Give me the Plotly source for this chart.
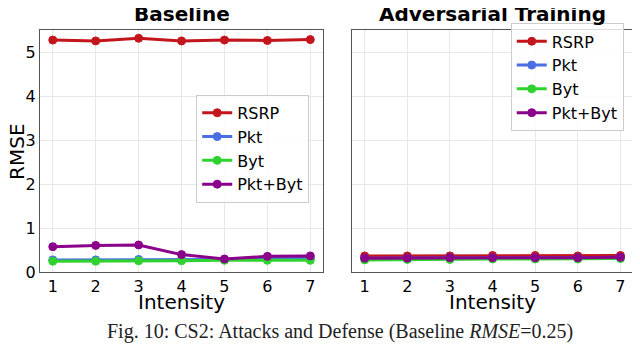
import plotly.graph_objects as go
from plotly.subplots import make_subplots

intensity = [1, 2, 3, 4, 5, 6, 7]

# Baseline
base_rsrp = [5.28, 5.26, 5.32, 5.26, 5.28, 5.27, 5.29]
base_pkt = [0.28, 0.28, 0.29, 0.29, 0.29, 0.31, 0.32]
base_byt = [0.25, 0.25, 0.26, 0.26, 0.27, 0.27, 0.27]
base_pktbyt = [0.58, 0.61, 0.62, 0.40, 0.30, 0.36, 0.37]

# Adversarial training
adv_rsrp = [0.37, 0.37, 0.37, 0.38, 0.38, 0.37, 0.38]
adv_pkt = [0.32, 0.32, 0.33, 0.33, 0.33, 0.33, 0.34]
adv_byt = [0.28, 0.29, 0.29, 0.30, 0.30, 0.30, 0.31]
adv_pktbyt = [0.32, 0.32, 0.33, 0.33, 0.33, 0.33, 0.34]

names = ["RSRP", "Pkt", "Byt", "Pkt+Byt"]
colors = ["#c3161c", "#4a6fe3", "#2fd22f", "#8b008b"]

fig = make_subplots(rows=1, cols=2)

panels = [
    (1, "legend", [base_rsrp, base_pkt, base_byt, base_pktbyt]),
    (2, "legend2", [adv_rsrp, adv_pkt, adv_byt, adv_pktbyt]),
]
for col, leg, series in panels:
    for name, color, ys in zip(names, colors, series):
        fig.add_trace(
            go.Scatter(
                x=intensity,
                y=ys,
                name=name,
                mode="lines+markers",
                line={"color": color, "width": 3},
                marker={"color": color, "size": 8, "line": {"color": color, "width": 1}},
                legend=leg,
            ),
            row=1,
            col=col,
        )

axis_common = dict(
    showline=True,
    linecolor="#555",
    linewidth=1,
    mirror=True,
    gridcolor="#e8e8e8",
    ticks="",
    tickfont={"family": "DejaVu Sans", "size": 16, "color": "black"},
    zeroline=False,
)

fig.update_xaxes(range=[0.7, 7.3], tickvals=intensity, **axis_common)
fig.update_yaxes(range=[0, 5.5], tickvals=[0, 1, 2, 3, 4, 5], **axis_common)

legend_style = {
    "xanchor": "left",
    "yanchor": "top",
    "font": {"family": "DejaVu Sans", "size": 16, "color": "black"},
    "bordercolor": "#cccccc",
    "borderwidth": 1,
    "bgcolor": "rgba(255,255,255,0.8)",
}

label_font = {"family": "DejaVu Sans", "size": 20, "color": "black"}

fig.update_layout(
    width=640,
    height=344,
    margin={"l": 0, "r": 0, "t": 0, "b": 0},
    paper_bgcolor="white",
    plot_bgcolor="white",
    xaxis={"domain": [0.05, 0.494]},
    xaxis2={"domain": [0.539, 0.98]},
    yaxis={"domain": [0.209, 0.933]},
    yaxis2={"domain": [0.209, 0.933], "side": "right"},
    legend={"x": 0.295, "y": 0.74, **legend_style},
    legend2={"x": 0.788, "y": 0.954, **legend_style},
    annotations=[
        dict(text="<b>Baseline</b>", x=0.272, y=0.983, xref="paper", yref="paper",
             xanchor="center", yanchor="middle", showarrow=False, font=label_font),
        dict(text="<b>Adversarial Training</b>", x=0.759, y=0.983, xref="paper", yref="paper",
             xanchor="center", yanchor="middle", showarrow=False, font=label_font),
        dict(text="RMSE", x=0.013, y=0.57, xref="paper", yref="paper", textangle=-90,
             xanchor="center", yanchor="middle", showarrow=False, font=label_font),
        dict(text="Intensity", x=0.272, y=0.12, xref="paper", yref="paper",
             xanchor="center", yanchor="middle", showarrow=False, font=label_font),
        dict(text="Intensity", x=0.759, y=0.12, xref="paper", yref="paper",
             xanchor="center", yanchor="middle", showarrow=False, font=label_font),
        dict(text="Fig. 10: CS2: Attacks and Defense (Baseline <i>RMSE</i>=0.25)", x=0.52, y=0.032,
             xref="paper", yref="paper", xanchor="center", yanchor="middle", showarrow=False,
             font={"family": "Liberation Serif", "size": 20, "color": "#222"}),
    ],
)

fig.write_html("out.html")
